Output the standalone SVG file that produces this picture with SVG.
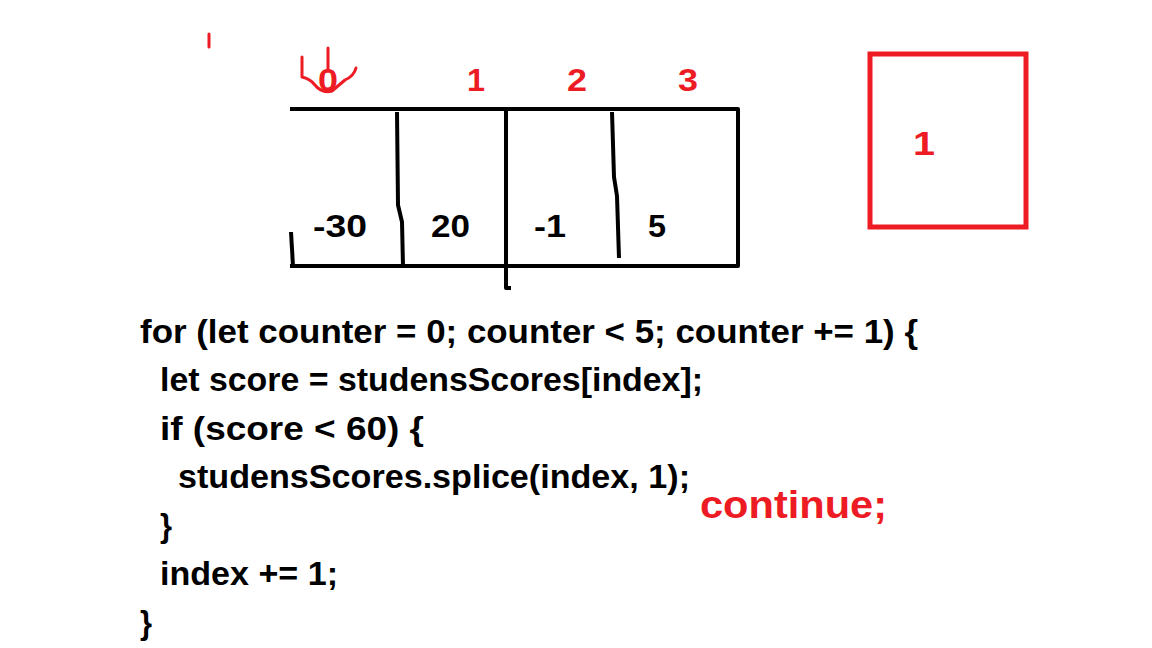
<svg xmlns="http://www.w3.org/2000/svg" width="1152" height="648" viewBox="0 0 1152 648">
<style>
.code{font-family:"Liberation Sans",Arial,sans-serif;font-weight:bold;font-size:33px;fill:#000}
.red{font-family:"Liberation Sans",Arial,sans-serif;font-weight:bold;fill:#ED1C24}
.val{font-family:"Liberation Sans",Arial,sans-serif;font-weight:bold;font-size:32px;fill:#000}
.ink{fill:none;stroke:#000;stroke-width:4;stroke-linecap:butt;stroke-linejoin:round}
.rink{fill:none;stroke:#ED1C24;stroke-width:3;stroke-linecap:round;stroke-linejoin:round}
</style>
<rect width="1152" height="648" fill="#fff"/>
<g id="array">
<path class="ink" d="M290 109 H738 V266 H290"/>
<path class="ink" d="M291 232 L293 266"/>
<path class="ink" d="M397 112 L398 205 L402 222 L403 266"/>
<path class="ink" d="M506 109 V288 H511"/>
<path class="ink" d="M612 112 L614 177 L617 196 L619 258"/>
<text class="val" x="313" y="237" textLength="54" lengthAdjust="spacingAndGlyphs">-30</text>
<text class="val" x="431" y="237" textLength="39" lengthAdjust="spacingAndGlyphs">20</text>
<text class="val" x="534" y="237" textLength="32" lengthAdjust="spacingAndGlyphs">-1</text>
<text class="val" x="648" y="237" textLength="18" lengthAdjust="spacingAndGlyphs">5</text>
</g>
<g id="indices">
<text class="red" font-size="32" x="318" y="91" textLength="20" lengthAdjust="spacingAndGlyphs">0</text>
<text class="red" font-size="32" x="467" y="91" textLength="18" lengthAdjust="spacingAndGlyphs">1</text>
<text class="red" font-size="32" x="567" y="91" textLength="20" lengthAdjust="spacingAndGlyphs">2</text>
<text class="red" font-size="32" x="678" y="91" textLength="20" lengthAdjust="spacingAndGlyphs">3</text>
<path class="rink" d="M302 57 V77 Q310 79 314 84 Q322 94 332 91 L345 80 Q354 76 356 68"/>
<path class="rink" d="M328 48 V71"/>
<path class="rink" d="M209 34 V47"/>
</g>
<g id="counter-box">
<rect x="870" y="54" width="156" height="173" fill="none" stroke="#ED1C24" stroke-width="5"/>
<text class="red" font-size="33" x="913" y="155" textLength="22" lengthAdjust="spacingAndGlyphs">1</text>
</g>
<g id="code">
<text class="code" x="140" y="343" textLength="778" lengthAdjust="spacingAndGlyphs">for (let counter = 0; counter &lt; 5; counter += 1) {</text>
<text class="code" x="160" y="391" textLength="543" lengthAdjust="spacingAndGlyphs">let score = studensScores[index];</text>
<text class="code" x="160" y="440" textLength="264" lengthAdjust="spacingAndGlyphs">if (score &lt; 60) {</text>
<text class="code" x="178" y="488" textLength="512" lengthAdjust="spacingAndGlyphs">studensScores.splice(index, 1);</text>
<text class="code" x="160" y="537" textLength="12" lengthAdjust="spacingAndGlyphs">}</text>
<text class="code" x="160" y="585" textLength="178" lengthAdjust="spacingAndGlyphs">index += 1;</text>
<text class="code" x="140" y="634" textLength="12" lengthAdjust="spacingAndGlyphs">}</text>
<text class="red" font-size="38" x="700" y="518" textLength="187" lengthAdjust="spacingAndGlyphs">continue;</text>
</g>
</svg>
